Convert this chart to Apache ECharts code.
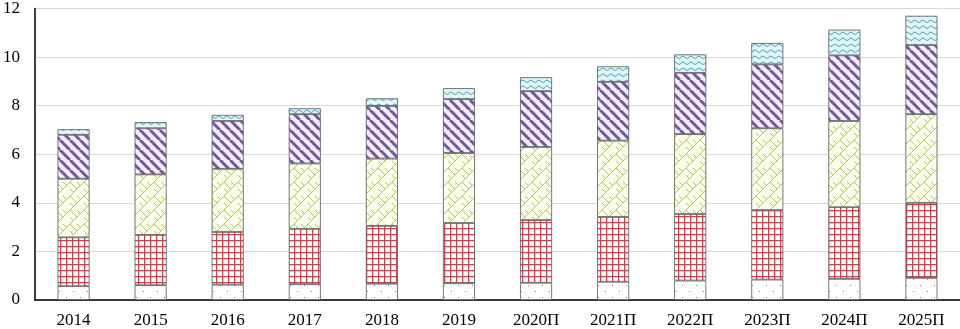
<!DOCTYPE html>
<html><head><meta charset="utf-8">
<script src="https://cdn.jsdelivr.net/npm/echarts@6/dist/echarts.min.js"></script>
<style>html,body{margin:0;padding:0;background:#fff}#c{width:960px;height:329px}</style>
</head><body><div id="c"></div>
<script>
const categories = ['2014','2015','2016','2017','2018','2019','2020П','2021П','2022П','2023П','2024П','2025П'];
const s1 = [0.57,0.61,0.63,0.65,0.67,0.69,0.71,0.75,0.80,0.84,0.87,0.91];
const s2 = [2.01,2.07,2.17,2.28,2.38,2.48,2.58,2.67,2.74,2.86,2.95,3.09];
const s3 = [2.41,2.49,2.60,2.69,2.77,2.88,3.01,3.14,3.29,3.37,3.55,3.65];
const s4 = [1.81,1.90,1.97,2.03,2.17,2.22,2.30,2.42,2.52,2.63,2.70,2.84];
const s5 = [0.23,0.25,0.25,0.24,0.31,0.45,0.57,0.64,0.76,0.88,1.06,1.21];
const yTicks = [0,2,4,6,8,10,12];

function mk(w,h,draw){const c=document.createElement('canvas');c.width=w;c.height=h;const g=c.getContext('2d');draw(g,w,h);return {image:c,repeat:'repeat'};}
const pDots = mk(14,12,(g)=>{g.fillStyle='#fff';g.fillRect(0,0,14,12);g.fillStyle='#7a8aa8';g.fillRect(3,3,1,1);g.fillRect(10,9,1,1);});
const pGrid = mk(6,6,(g)=>{g.fillStyle='#fff';g.fillRect(0,0,6,6);g.fillStyle='#e0394a';g.fillRect(0,0,6,1.3);g.fillRect(0,0,1.3,6);});
const pWeave = mk(14,14,(g)=>{g.fillStyle='#fbfdf0';g.fillRect(0,0,14,14);g.strokeStyle='#b3c85a';g.lineWidth=1;
  g.beginPath();g.moveTo(0,14);g.lineTo(14,0);g.moveTo(-7,7);g.lineTo(0,0);g.moveTo(14,14);g.lineTo(21,7);
  g.moveTo(0,0);g.lineTo(7,7);g.moveTo(7,14);g.lineTo(14,21);g.moveTo(7,0);g.lineTo(10.5,3.5);g.moveTo(0,7);g.lineTo(3.5,10.5);g.stroke();});
const pStripe = mk(10,10,(g)=>{g.fillStyle='#f7ecff';g.fillRect(0,0,10,10);g.strokeStyle='#6f5a9c';g.lineWidth=3;
  g.beginPath();for(let k=-2;k<=2;k++){g.moveTo(k*10,0);g.lineTo(k*10+10,10);}g.stroke();});
const pWave = mk(8,6,(g)=>{g.fillStyle='#e2f5f8';g.fillRect(0,0,8,6);g.strokeStyle='#4aa8b6';g.lineWidth=1;
  g.beginPath();g.moveTo(0,4.5);g.quadraticCurveTo(2,0.5,4,2.5);g.quadraticCurveTo(6,4.5,8,4.5);g.stroke();});

const chart = echarts.init(document.getElementById('c'),null,{renderer:'canvas'});
const names=['s1','s2','s3','s4','s5'];
const data=[s1,s2,s3,s4,s5];
const pats=[pDots,pGrid,pWeave,pStripe,pWave];
chart.setOption({
  animation:false,
  grid:{left:32,right:0,top:6,bottom:29,containLabel:false},
  xAxis:{type:'category',data:categories,
    axisLine:{lineStyle:{color:'#000',width:1.5}},axisTick:{show:false},
    axisLabel:{color:'#000',fontFamily:'Liberation Serif',fontSize:17,margin:12}},
  yAxis:{type:'value',min:0,max:12,interval:2,
    axisLine:{show:true,lineStyle:{color:'#000',width:1.5}},axisTick:{show:false},
    splitLine:{lineStyle:{color:'#d9d9d9',width:1.2}},
    axisLabel:{color:'#000',fontFamily:'Liberation Serif',fontSize:17,margin:15,
      formatter:v=>yTicks.includes(v)?String(v):''}},
  series:data.map((d,i)=>({name:names[i],type:'bar',stack:'t',data:d,barWidth:32,
    itemStyle:{color:pats[i],borderColor:'#555',borderWidth:0.8}}))
});
</script></body></html>
